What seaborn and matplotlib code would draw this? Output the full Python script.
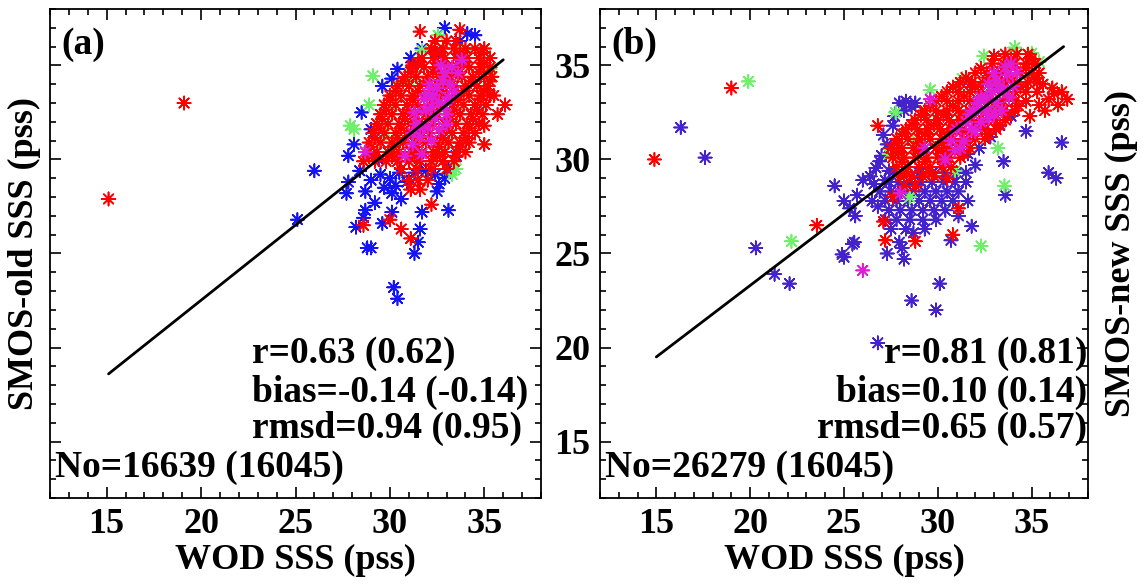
import numpy as np
import pandas as pd
import matplotlib
matplotlib.use("Agg")
import matplotlib.pyplot as plt
from matplotlib.ticker import MultipleLocator
import seaborn as sns

# ---- panel (a): SMOS-old vs WOD ----
a_red = [
    (15.1, 27.9), (19.1, 33.0), (28.6, 26.5), (30.0, 26.8), (30.6, 26.3), (31.1, 25.8),
    (32.2, 27.6), (31.6, 36.8), (33.7, 36.9), (36.1, 32.9), (35.7, 32.4), (35.5, 33.4),
    (35.0, 31.8), (35.0, 30.8), (31.2, 35.0),
    (32.4, 36.3), (33.0, 36.3), (33.5, 36.3),
    (32.2, 35.9), (32.8, 35.9), (33.4, 35.9), (34.0, 35.9), (34.5, 35.9), (35.0, 35.9),
    (31.7, 35.4), (32.3, 35.4), (32.9, 35.4), (33.5, 35.4), (34.1, 35.4), (34.7, 35.4), (35.3, 35.4),
    (31.2, 34.9), (31.8, 34.9), (32.4, 34.9), (33.0, 34.9), (33.6, 34.9), (34.2, 34.9), (34.8, 34.9), (35.3, 34.9),
    (30.8, 34.4), (31.4, 34.4), (32.0, 34.4), (32.6, 34.4), (33.2, 34.4), (33.8, 34.4), (34.4, 34.4), (35.0, 34.4), (35.4, 34.4),
    (30.4, 33.9), (31.0, 33.9), (31.6, 33.9), (32.2, 33.9), (32.8, 33.9), (33.4, 33.9), (34.0, 33.9), (34.6, 33.9), (35.2, 33.9),
    (30.0, 33.4), (30.6, 33.4), (31.2, 33.4), (31.8, 33.4), (32.4, 33.4), (33.0, 33.4), (33.6, 33.4), (34.2, 33.4), (34.8, 33.4), (35.3, 33.4),
    (29.7, 32.9), (30.3, 32.9), (30.9, 32.9), (31.5, 32.9), (32.1, 32.9), (32.7, 32.9), (33.3, 32.9), (33.9, 32.9), (34.5, 32.9), (35.1, 32.9),
    (29.5, 32.4), (30.1, 32.4), (30.7, 32.4), (31.3, 32.4), (31.9, 32.4), (32.5, 32.4), (33.1, 32.4), (33.7, 32.4), (34.3, 32.4), (34.9, 32.4),
    (29.3, 31.9), (29.9, 31.9), (30.5, 31.9), (31.1, 31.9), (31.7, 31.9), (32.3, 31.9), (32.9, 31.9), (33.5, 31.9), (34.1, 31.9), (34.7, 31.9),
    (29.1, 31.4), (29.7, 31.4), (30.3, 31.4), (30.9, 31.4), (31.5, 31.4), (32.1, 31.4), (32.7, 31.4), (33.3, 31.4), (33.9, 31.4), (34.5, 31.4),
    (28.9, 30.9), (29.5, 30.9), (30.1, 30.9), (30.7, 30.9), (31.3, 30.9), (31.9, 30.9), (32.5, 30.9), (33.1, 30.9), (33.7, 30.9), (34.2, 30.9),
    (28.7, 30.4), (29.3, 30.4), (29.9, 30.4), (30.5, 30.4), (31.1, 30.4), (31.7, 30.4), (32.3, 30.4), (32.9, 30.4), (33.5, 30.4), (34.0, 30.4),
    (28.6, 29.9), (29.2, 29.9), (29.8, 29.9), (30.4, 29.9), (31.0, 29.9), (31.6, 29.9), (32.2, 29.9), (32.8, 29.9), (33.4, 29.9),
    (30.6, 29.5), (31.4, 29.5), (32.2, 29.5), (33.0, 29.5),
    (31.0, 28.9), (31.5, 28.9), (32.0, 28.9), (31.1, 28.4), (31.6, 28.4),
    # second, offset pass through the dense core
    (32.5, 35.65), (33.7, 35.65), (34.8, 35.65), (31.5, 35.15), (32.7, 35.15), (33.9, 35.15), (35.0, 35.15),
    (31.1, 34.65), (32.3, 34.65), (33.5, 34.65), (34.7, 34.65), (30.7, 34.15), (31.9, 34.15), (33.1, 34.15), (34.3, 34.15), (35.3, 34.15),
    (30.3, 33.65), (31.5, 33.65), (32.7, 33.65), (33.9, 33.65), (35.0, 33.65), (30.0, 33.15), (31.2, 33.15), (32.4, 33.15), (33.6, 33.15), (34.8, 33.15),
    (29.8, 32.65), (31.0, 32.65), (32.2, 32.65), (33.4, 32.65), (34.6, 32.65), (29.6, 32.15), (30.8, 32.15), (32.0, 32.15), (33.2, 32.15), (34.4, 32.15),
    (29.4, 31.65), (30.6, 31.65), (31.8, 31.65), (33.0, 31.65), (34.2, 31.65), (29.2, 31.15), (30.4, 31.15), (31.6, 31.15), (32.8, 31.15), (34.0, 31.15),
    (29.0, 30.65), (30.2, 30.65), (31.4, 30.65), (32.6, 30.65), (33.7, 30.65), (28.9, 30.15), (30.1, 30.15), (31.3, 30.15), (32.5, 30.15), (33.5, 30.15),
]
a_blue = [
    (26.0, 29.4), (25.1, 26.8), (30.2, 23.2), (30.4, 22.6), (28.8, 25.3), (29.0, 25.3),
    (31.3, 25.0), (31.5, 25.6), (31.6, 26.3), (29.6, 26.6), (28.2, 26.4), (33.1, 27.3),
    (31.7, 27.2), (30.1, 27.2), (28.6, 26.9), (28.7, 27.3), (27.7, 28.2), (27.8, 28.8),
    (28.5, 32.5), (29.6, 33.9), (30.1, 34.3), (27.8, 30.2), (28.1, 30.8), (29.0, 31.6),
    (32.9, 37.0), (34.1, 36.7), (34.5, 36.6), (34.7, 31.9), (32.4, 35.7),
    (29.5, 29.2), (30.0, 29.0), (30.5, 29.3), (30.3, 28.6), (30.9, 28.8), (31.3, 29.3),
    (31.9, 29.4), (32.4, 29.2), (32.9, 29.0), (33.1, 29.5), (32.6, 28.7), (30.1, 28.2),
    (29.7, 28.5), (29.0, 28.9), (28.7, 28.3), (29.2, 27.7), (30.6, 27.9), (32.5, 28.3),
    (29.4, 30.0), (28.4, 29.4), (33.5, 30.2), (31.1, 35.4), (31.7, 35.9), (33.7, 36.3), (30.4, 34.8),
]
a_green = [
    (29.1, 34.45), (27.9, 31.8), (28.1, 31.6), (28.9, 32.9), (31.0, 34.2), (30.1, 33.2),
    (32.55, 36.6), (33.5, 29.5), (33.3, 29.2), (33.9, 35.8), (29.8, 31.4), (31.7, 35.8),
    (30.5, 33.9), (35.3, 34.8),
]
a_magenta = [
    (30.8, 30.2), (31.2, 30.8), (31.6, 31.2), (31.4, 31.9), (32.0, 31.7), (32.4, 32.2),
    (31.9, 32.6), (32.6, 33.0), (33.1, 33.3), (32.5, 33.8), (33.2, 34.0), (33.6, 34.6),
    (32.9, 34.6), (33.0, 32.4), (32.2, 31.0), (31.7, 30.3), (32.3, 33.4), (28.7, 30.4), (33.8, 35.3),
    (31.3, 32.5), (31.8, 33.2), (32.1, 34.0), (32.8, 34.2), (32.0, 33.5), (32.9, 32.9),
    (33.4, 33.6), (31.6, 31.7), (32.6, 31.6), (33.3, 34.9), (31.2, 31.4), (32.2, 32.8),
    (32.7, 35.0), (33.0, 31.9),
]
a_fit_x = [15.1, 36.0]
a_fit_y = [18.6, 35.3]

# ---- panel (b): SMOS-new vs WOD ----
b_red = [
    (14.9, 30.0), (19.0, 33.8), (23.55, 26.5), (26.8, 31.8), (27.1, 26.7), (27.2, 25.7),
    (28.8, 25.65), (31.1, 27.4), (30.8, 26.0), (33.0, 35.5), (27.6, 28.0), (30.5, 29.0),
    (35.6, 34.0), (36.1, 33.8), (36.6, 33.6), (36.9, 33.2), (35.9, 33.2), (36.4, 32.9),
    (35.4, 32.9), (35.7, 32.6), (34.9, 32.3), (36.2, 33.5),
    (33.6, 35.6), (34.2, 35.6), (34.8, 35.6),
    (32.9, 35.1), (33.5, 35.1), (34.1, 35.1), (34.7, 35.1), (35.2, 35.1),
    (32.0, 34.6), (32.6, 34.6), (33.2, 34.6), (33.8, 34.6), (34.4, 34.6), (35.0, 34.6), (35.4, 34.6),
    (31.2, 34.1), (31.8, 34.1), (32.4, 34.1), (33.0, 34.1), (33.6, 34.1), (34.2, 34.1), (34.8, 34.1), (35.3, 34.1),
    (30.5, 33.6), (31.1, 33.6), (31.7, 33.6), (32.3, 33.6), (32.9, 33.6), (33.5, 33.6), (34.1, 33.6), (34.7, 33.6), (35.3, 33.6),
    (29.9, 33.1), (30.5, 33.1), (31.1, 33.1), (31.7, 33.1), (32.3, 33.1), (32.9, 33.1), (33.5, 33.1), (34.1, 33.1), (34.7, 33.1),
    (29.3, 32.6), (29.9, 32.6), (30.5, 32.6), (31.1, 32.6), (31.7, 32.6), (32.3, 32.6), (32.9, 32.6), (33.5, 32.6), (34.1, 32.6),
    (28.8, 32.1), (29.4, 32.1), (30.0, 32.1), (30.6, 32.1), (31.2, 32.1), (31.8, 32.1), (32.4, 32.1), (33.0, 32.1), (33.6, 32.1),
    (28.3, 31.6), (28.9, 31.6), (29.5, 31.6), (30.1, 31.6), (30.7, 31.6), (31.3, 31.6), (31.9, 31.6), (32.5, 31.6), (33.1, 31.6),
    (27.8, 31.1), (28.4, 31.1), (29.0, 31.1), (29.6, 31.1), (30.2, 31.1), (30.8, 31.1), (31.4, 31.1), (32.0, 31.1), (32.5, 31.1),
    (27.5, 30.6), (28.1, 30.6), (28.7, 30.6), (29.3, 30.6), (29.9, 30.6), (30.5, 30.6), (31.1, 30.6), (31.7, 30.6),
    (27.6, 30.1), (28.2, 30.1), (28.8, 30.1), (29.4, 30.1), (30.0, 30.1), (30.6, 30.1), (31.2, 30.1),
    (27.8, 29.6), (28.4, 29.6), (29.0, 29.6), (29.6, 29.6), (30.2, 29.6), (30.7, 29.6),
    (28.0, 29.1), (28.6, 29.1), (29.2, 29.1), (29.8, 29.1), (28.2, 28.6), (28.8, 28.6),
    # second, offset pass through the band
    (33.9, 35.35), (35.0, 35.35), (32.3, 34.85), (33.5, 34.85), (34.7, 34.85), (31.5, 34.35), (32.7, 34.35), (33.9, 34.35), (35.1, 34.35),
    (30.8, 33.85), (32.0, 33.85), (33.2, 33.85), (34.4, 33.85), (30.2, 33.35), (31.4, 33.35), (32.6, 33.35), (33.8, 33.35),
    (29.6, 32.85), (30.8, 32.85), (32.0, 32.85), (33.2, 32.85), (34.3, 32.85), (29.1, 32.35), (30.3, 32.35), (31.5, 32.35), (32.7, 32.35), (33.7, 32.35),
    (28.6, 31.85), (29.8, 31.85), (31.0, 31.85), (32.2, 31.85), (33.3, 31.85), (28.1, 31.35), (29.3, 31.35), (30.5, 31.35), (31.7, 31.35), (32.7, 31.35),
    (27.8, 30.85), (29.0, 30.85), (30.2, 30.85), (31.4, 30.85), (27.9, 30.35), (29.1, 30.35), (30.3, 30.35), (31.4, 30.35),
    (28.1, 29.85), (29.3, 29.85), (30.4, 29.85), (28.3, 29.35), (29.5, 29.35),
]
b_blue = [
    (16.3, 31.7), (17.6, 30.1), (20.3, 25.3), (21.3, 23.9), (22.1, 23.4), (24.5, 28.6),
    (25.7, 28.1), (25.3, 27.4), (25.6, 27.0), (24.9, 24.95), (25.0, 24.8), (25.45, 25.5),
    (25.55, 25.6), (26.8, 27.5), (27.3, 25.0), (27.95, 25.6), (28.1, 25.3), (28.2, 24.7),
    (28.7, 26.1), (30.1, 23.4), (28.6, 22.5), (29.9, 22.0), (26.8, 20.25), (31.1, 27.0),
    (30.7, 25.7), (31.8, 26.45), (33.6, 28.1), (36.6, 30.9), (35.9, 29.3), (36.3, 29.0),
    (31.6, 34.2), (26.0, 28.9), (25.0, 27.8),
    (27.95, 33.0), (28.3, 33.1), (28.6, 32.8), (28.2, 32.6), (28.8, 33.0), (27.7, 32.3),
    (26.4, 29.1), (26.7, 29.55), (27.0, 30.2), (27.3, 30.8), (27.1, 31.3), (27.6, 31.8),
    (26.9, 29.9), (27.4, 29.4), (27.2, 28.9), (26.6, 28.7),
    (27.6, 29.3), (28.1, 29.3), (29.0, 29.3), (29.7, 29.3), (30.4, 29.3), (31.0, 29.3),
    (27.4, 28.8), (27.9, 28.8), (28.5, 28.8), (29.1, 28.8), (29.7, 28.8), (30.3, 28.8), (30.9, 28.8), (31.5, 28.8),
    (26.9, 28.3), (27.5, 28.3), (28.1, 28.3), (28.7, 28.3), (29.3, 28.3), (29.9, 28.3), (30.5, 28.3), (31.1, 28.3),
    (26.5, 27.8), (27.2, 27.8), (27.8, 27.8), (28.4, 27.8), (29.0, 27.8), (29.6, 27.8), (30.2, 27.8), (30.8, 27.8), (31.6, 27.8),
    (27.4, 27.3), (28.0, 27.3), (28.6, 27.3), (29.2, 27.3), (29.8, 27.3), (30.4, 27.3),
    (27.2, 26.8), (27.8, 26.8), (28.5, 26.8), (29.2, 26.8), (29.9, 26.8),
    (27.5, 26.3), (28.3, 26.3), (29.3, 26.3),
    (31.6, 30.3), (32.2, 30.6), (32.8, 31.2), (33.3, 31.8), (33.9, 32.3), (34.7, 31.5),
    (33.5, 29.9), (32.0, 29.7), (31.5, 29.3),
]
b_green = [
    (19.9, 34.15), (22.2, 25.65), (32.3, 25.4), (33.55, 28.6), (32.45, 35.5), (34.1, 35.95),
    (35.0, 35.65), (29.6, 33.7), (31.3, 34.3), (27.75, 32.5), (27.4, 30.3), (28.9, 31.0),
    (33.2, 30.6), (35.4, 35.2), (28.5, 28.0), (30.9, 29.4),
]
b_magenta = [
    (30.4, 30.0), (30.9, 30.5), (31.4, 31.0), (31.0, 31.6), (31.8, 31.6), (32.3, 32.0),
    (31.7, 32.4), (32.5, 32.7), (33.1, 33.0), (32.3, 33.3), (32.9, 33.6), (33.5, 33.7),
    (33.1, 34.2), (33.7, 34.5), (33.9, 35.1), (32.7, 32.2), (33.4, 32.6), (29.6, 33.2),
    (26.0, 24.1), (29.3, 30.6), (28.0, 28.2),
    (31.9, 32.6), (32.1, 33.0), (32.6, 33.3), (33.0, 32.4), (33.3, 33.9), (32.7, 34.0),
    (31.5, 32.0), (32.0, 31.5), (33.8, 33.3), (34.2, 34.6), (34.0, 33.9), (31.2, 30.6),
    (30.7, 31.0), (32.6, 32.6), (33.6, 34.9), (33.0, 34.6),
]
b_fit_x = [15.0, 36.7]
b_fit_y = [19.5, 36.0]

a_stats = ["r=0.63 (0.62)", "bias=-0.14 (-0.14)", "rmsd=0.94 (0.95)", "No=16639 (16045)"]
b_stats = ["r=0.81 (0.81)", "bias=0.10 (0.14)", "rmsd=0.65 (0.57)", "No=26279 (16045)"]


def points(groups):
    frames = []
    for name, pts in groups:
        arr = np.array(pts)
        frames.append(pd.DataFrame({"wod": arr[:, 0], "smos": arr[:, 1], "src": name}))
    return pd.concat(frames, ignore_index=True)


sns.set_style("ticks")
plt.rcParams["font.family"] = ["Liberation Serif", "DejaVu Serif"]
plt.rcParams["font.weight"] = "bold"
for key in ["text.color", "axes.labelcolor", "xtick.color", "ytick.color", "axes.edgecolor"]:
    plt.rcParams[key] = "black"

fs = 27
fig = plt.figure(figsize=(11.47, 5.85), dpi=100)
ax1 = fig.add_axes([50 / 1147, 1 - 498 / 585, 491 / 1147, 489 / 585])
ax2 = fig.add_axes([600 / 1147, 1 - 498 / 585, 488 / 1147, 489 / 585])

star = (8, 2, 0)
df_a = points([("blue", a_blue), ("green", a_green), ("red", a_red), ("magenta", a_magenta)])
sns.scatterplot(data=df_a, x="wod", y="smos", hue="src", ax=ax1, marker=star, s=90, linewidth=1.2,
                palette={"blue": "#1414f5", "green": "#6ef06a", "red": "#ff0000", "magenta": "#e01cd4"},
                legend=False)
sns.lineplot(x=a_fit_x, y=a_fit_y, ax=ax1, color="black", linewidth=2)

df_b = points([("blue", b_blue), ("green", b_green), ("red", b_red), ("magenta", b_magenta)])
sns.scatterplot(data=df_b, x="wod", y="smos", hue="src", ax=ax2, marker=star, s=90, linewidth=1.2,
                palette={"blue": "#4422cc", "green": "#6ef06a", "red": "#ff0000", "magenta": "#e01cd4"},
                legend=False)
sns.lineplot(x=b_fit_x, y=b_fit_y, ax=ax2, color="black", linewidth=2)

for ax in (ax1, ax2):
    ax.set_xlim(12, 38)
    ax.set_ylim(12, 38)
    ax.set_xticks([15, 20, 25, 30, 35])
    ax.set_yticks([15, 20, 25, 30, 35])
    ax.xaxis.set_minor_locator(MultipleLocator(1))
    ax.yaxis.set_minor_locator(MultipleLocator(1))
    ax.tick_params(which="both", direction="in", top=True, right=True, width=1.2, labelsize=26, pad=7)
    ax.tick_params(which="major", length=8)
    ax.tick_params(which="minor", length=4)
    for sp in ax.spines.values():
        sp.set_linewidth(1.3)
    ax.set_xlabel("WOD SSS (pss)", fontsize=26, fontweight="bold", labelpad=2)

ax1.tick_params(labelleft=False)
ax1.set_ylabel("SMOS-old SSS (pss)", fontsize=26, fontweight="bold")
ax1.yaxis.set_label_coords(-0.018, 0.5)
ax2.set_ylabel("SMOS-new SSS (pss)", fontsize=26, fontweight="bold")
ax2.yaxis.set_label_position("right")
ax2.yaxis.set_label_coords(1.035, 0.5)

ax1.text(12.6, 36.1, "(a)", fontsize=fs, fontweight="bold", va="center")
ax2.text(12.6, 36.1, "(b)", fontsize=fs, fontweight="bold", va="center")

for i, yy in enumerate([19.7, 17.6, 15.7]):
    ax1.text(22.7, yy, a_stats[i], fontsize=fs, fontweight="bold", va="center", ha="left")
    ax2.text(37.95, yy, b_stats[i], fontsize=fs, fontweight="bold", va="center", ha="right")
ax1.text(12.25, 13.6, a_stats[3], fontsize=fs, fontweight="bold", va="center")
ax2.text(12.25, 13.6, b_stats[3], fontsize=fs, fontweight="bold", va="center")

fig.savefig("out.png", dpi=100)
